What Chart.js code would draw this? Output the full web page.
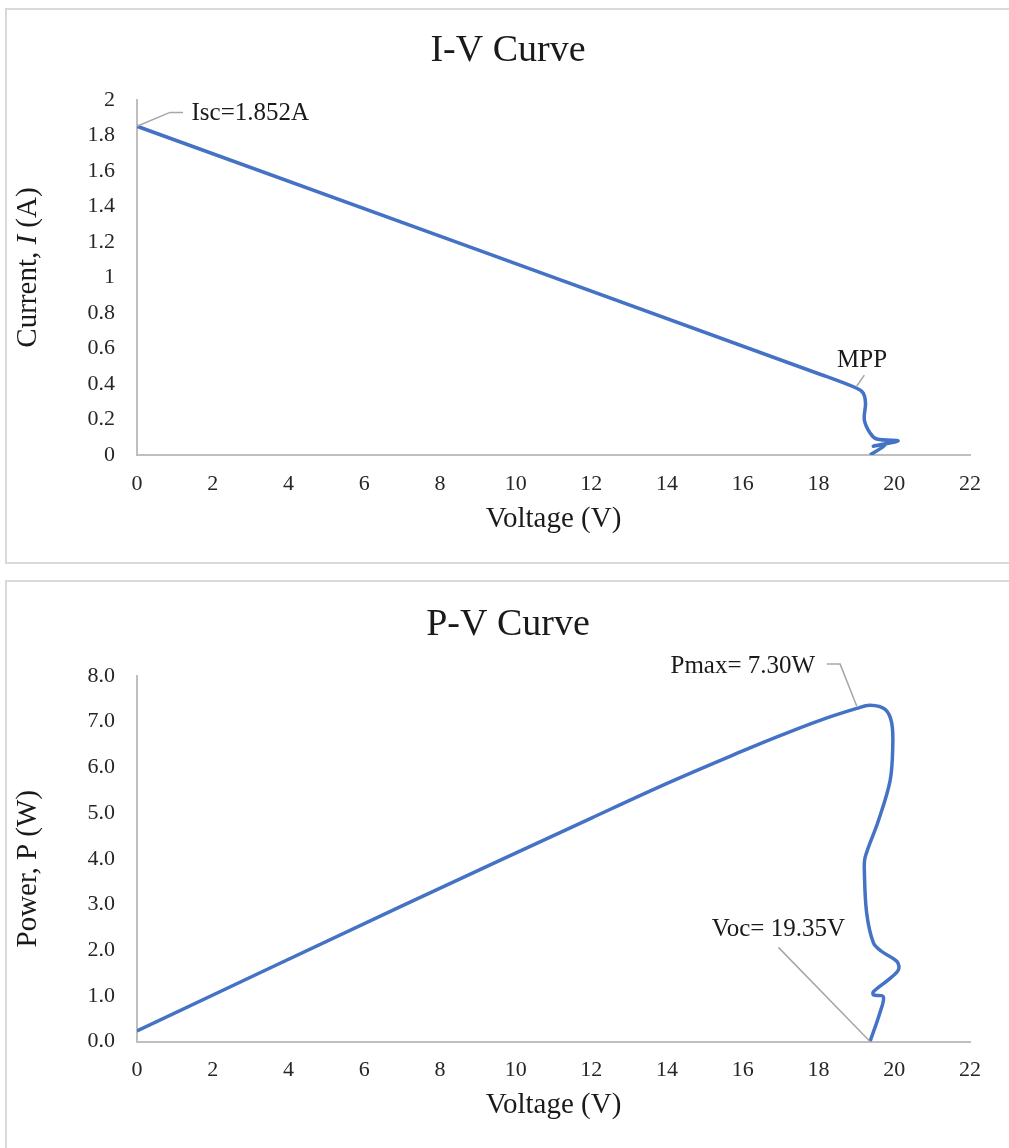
<!DOCTYPE html>
<html>
<head>
<meta charset="utf-8">
<script src="https://cdn.jsdelivr.net/npm/chart.js@4.4.1/dist/chart.umd.min.js"></script>
<style>
  body { margin: 0; background: #fff; width: 1009px; height: 1148px; overflow: hidden; position: relative; }
  .box { position: absolute; left: 5px; width: 1006px; border: 2px solid #d9d9d9; box-sizing: border-box; background: #fff; }
  #box1 { top: 8px; height: 556px; }
  #box2 { top: 580px; height: 570px; }
  canvas { display: block; }
</style>
</head>
<body>
<div class="box" id="box1"><canvas id="ivChart" width="1002" height="552"></canvas></div>
<div class="box" id="box2"><canvas id="pvChart" width="1002" height="566"></canvas></div>
<script>
// I-V curve
const ivVoltage = [0, 18.04, 19.01, 19.18, 19.24, 19.21, 19.36, 19.54, 20.10, 19.45, 19.75, 19.36];
const ivCurrent = [1.852, 0.455, 0.376, 0.349, 0.293, 0.197, 0.124, 0.090, 0.079, 0.050, 0.055, 0];

// P-V curve
const pvVoltage = [0, 7, 12, 14, 16, 17, 18.04, 19.01, 19.36, 19.76, 19.93, 19.96, 19.89, 19.58, 19.23, 19.21,
  19.27, 19.45, 19.67, 20.07, 20.11, 19.84, 19.45, 19.45, 19.71, 19.62, 19.36];
const pvPower = [0.23, 2.97, 4.89, 5.65, 6.36, 6.70, 7.03, 7.29, 7.36, 7.27, 6.98, 6.46, 5.71, 4.83, 4.03, 3.74,
  2.82, 2.16, 1.97, 1.75, 1.57, 1.35, 1.09, 1.02, 0.98, 0.63, 0];

const voltageTicks = ["0", "2", "4", "6", "8", "10", "12", "14", "16", "18", "20", "22"];
const currentTicks = ["0", "0.2", "0.4", "0.6", "0.8", "1", "1.2", "1.4", "1.6", "1.8", "2"];
const powerTicks = ["0.0", "1.0", "2.0", "3.0", "4.0", "5.0", "6.0", "7.0", "8.0"];

const FONT = "'Liberation Serif', 'Times New Roman', serif";
const LINE_BLUE = "#4472c4";
const AXIS_GREY = "#bfbfbf";

function toPoints(xs, ys) {
  return xs.map((x, i) => ({ x: x, y: ys[i] }));
}

// draws the chart title, the y title (mixed italic) and the callouts
const calloutPlugin = {
  id: "callouts",
  afterDraw(chart, args, opts) {
    const ctx = chart.ctx;
    const xs = chart.scales.x;
    const ys = chart.scales.y;
    ctx.save();
    ctx.fillStyle = "#1a1a1a";

    // title
    ctx.font = "38px " + FONT;
    ctx.textAlign = "center";
    ctx.textBaseline = "middle";
    ctx.fillText(opts.title, chart.width / 2, opts.titleY);

    // y axis title
    let total = 0;
    opts.yTitle.forEach(p => {
      ctx.font = (p.italic ? "italic " : "") + "29px " + FONT;
      p.w = ctx.measureText(p.text).width;
      total += p.w;
    });
    ctx.save();
    ctx.translate(21, (ys.top + ys.bottom) / 2 + opts.yTitleShift);
    ctx.rotate(-Math.PI / 2);
    ctx.textAlign = "left";
    let tx = -total / 2;
    opts.yTitle.forEach(p => {
      ctx.font = (p.italic ? "italic " : "") + "29px " + FONT;
      ctx.fillText(p.text, tx, 0);
      tx += p.w;
    });
    ctx.restore();

    // callouts
    ctx.font = "25px " + FONT;
    opts.callouts.forEach(c => {
      ctx.strokeStyle = "#a6a6a6";
      ctx.lineWidth = 1.5;
      ctx.beginPath();
      c.line.forEach((pt, i) => {
        const px = xs.getPixelForValue(pt[0]);
        const py = ys.getPixelForValue(pt[1]);
        if (i === 0) ctx.moveTo(px, py);
        else ctx.lineTo(px, py);
      });
      ctx.stroke();
      ctx.textAlign = c.align;
      ctx.fillText(c.text, xs.getPixelForValue(c.at[0]), ys.getPixelForValue(c.at[1]));
    });
    ctx.restore();
  }
};

function makeChart(id, cfg) {
  return new Chart(document.getElementById(id), {
    type: "scatter",
    data: {
      datasets: [{
        data: cfg.points,
        showLine: true,
        borderColor: LINE_BLUE,
        borderWidth: 3.5,
        pointRadius: 0,
        tension: 0.35,
        fill: false
      }]
    },
    options: {
      responsive: false,
      animation: false,
      layout: { padding: { left: 0, right: 39, top: cfg.top, bottom: 0 } },
      plugins: {
        legend: { display: false },
        tooltip: { enabled: false },
        title: { display: false },
        callouts: {
          title: cfg.title,
          titleY: cfg.titleY,
          yTitle: cfg.yTitle,
          yTitleShift: cfg.yTitleShift,
          callouts: cfg.callouts
        }
      },
      scales: {
        x: {
          type: "linear",
          min: 0,
          max: 22,
          grid: { display: false, drawTicks: false },
          border: { display: true, color: AXIS_GREY, width: 2 },
          ticks: {
            stepSize: 2,
            padding: 16,
            color: "#262626",
            font: { family: FONT, size: 22 },
            maxRotation: 0,
            callback: (v, i) => voltageTicks[i]
          },
          title: {
            display: true,
            text: "Voltage (V)",
            color: "#1a1a1a",
            font: { family: FONT, size: 29 },
            padding: { top: 0, bottom: 25 }
          },
          afterFit: s => { s.height = cfg.xHeight; }
        },
        y: {
          min: 0,
          max: cfg.yMax,
          grid: { display: false, drawTicks: false },
          border: { display: true, color: AXIS_GREY, width: 2 },
          ticks: {
            stepSize: cfg.yStep,
            padding: 22,
            color: "#262626",
            font: { family: FONT, size: 22 },
            callback: (v, i) => cfg.yTicks[i]
          },
          afterFit: s => { s.width = 130; }
        }
      }
    },
    plugins: [calloutPlugin]
  });
}

makeChart("ivChart", {
  title: "I-V Curve",
  titleY: 41,
  top: 90,
  points: toPoints(ivVoltage, ivCurrent),
  yMax: 2,
  yStep: 0.2,
  yTicks: currentTicks,
  xHeight: 107,
  yTitle: [{ text: "Current, " }, { text: "I", italic: true }, { text: " (A)" }],
  yTitleShift: -10,
  callouts: [
    { text: "Isc=1.852A", line: [[0, 1.852], [0.87, 1.93], [1.215, 1.93]], at: [1.44, 1.925], align: "left" },
    { text: "MPP", line: [[19.01, 0.389], [19.21, 0.45]], at: [19.15, 0.53], align: "center" }
  ]
});

makeChart("pvChart", {
  title: "P-V Curve",
  titleY: 43,
  top: 94,
  points: toPoints(pvVoltage, pvPower),
  yMax: 8,
  yStep: 1,
  yTicks: powerTicks,
  xHeight: 106.5,
  yTitle: [{ text: "Power, P (W)" }],
  yTitleShift: 10,
  callouts: [
    { text: "Pmax= 7.30W", line: [[19.01, 7.34], [18.57, 8.26], [18.22, 8.26]], at: [17.91, 8.21], align: "right" },
    { text: "Voc= 19.35V", line: [[19.36, 0], [16.94, 2.06]], at: [16.94, 2.45], align: "center" }
  ]
});
</script>
</body>
</html>
